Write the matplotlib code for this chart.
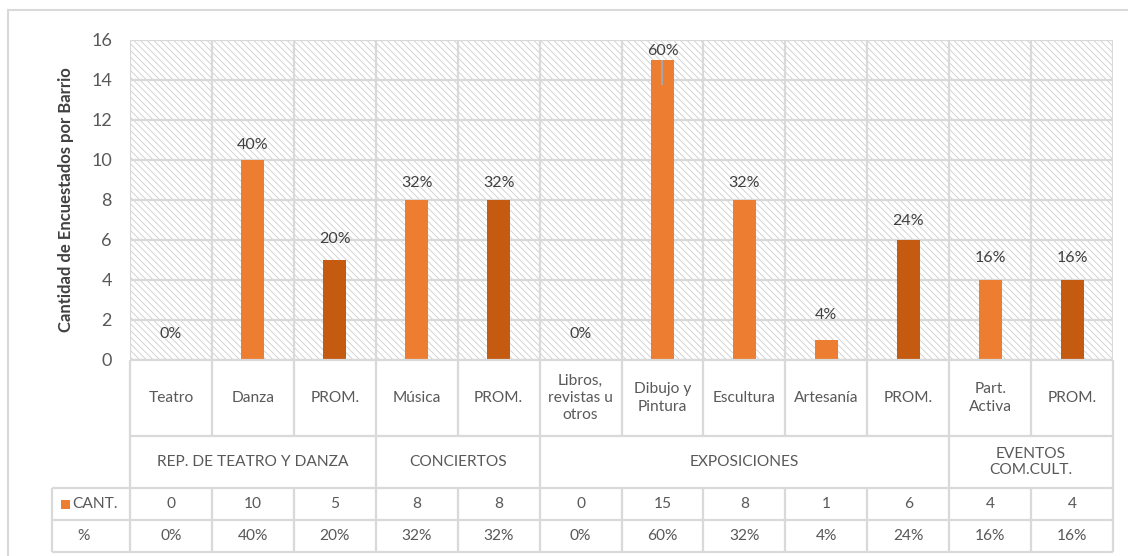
import matplotlib
matplotlib.use("Agg")
import matplotlib.pyplot as plt
from matplotlib.patches import Rectangle
from matplotlib.lines import Line2D

# ---------------- data ----------------
categories = ["Teatro", "Danza", "PROM.", "Música", "PROM.",
              "Libros,\nrevistas u\notros", "Dibujo y\nPintura", "Escultura",
              "Artesanía", "PROM.", "Part.\nActiva", "PROM."]
groups = ["REP. DE TEATRO Y DANZA", "CONCIERTOS", "EXPOSICIONES", "EVENTOS\nCOM.CULT."]
group_sizes = [3, 2, 5, 2]
cant = [0, 10, 5, 8, 8, 0, 15, 8, 1, 6, 4, 4]
pct = [0.00, 0.40, 0.20, 0.32, 0.32, 0.00, 0.60, 0.32, 0.04, 0.24, 0.16, 0.16]
is_prom = [False, False, True, False, True, False, False, False, False, True, False, True]
err_lower = [0, 0, 0, 0, 0, 0, 1.25, 0, 0, 0, 0, 0]
yticks = [0, 2, 4, 6, 8, 10, 12, 14, 16]
ylabel = "Cantidad de Encuestados por Barrio"
series_name = "CANT."
pct_name = "%"

# ---------------- style ----------------
W, H = 1128, 556
LIGHT = "#ED7D31"
DARK = "#C55A11"
GRID = "#D9D9D9"
TXT = "#595959"
LBL = "#404040"
FONT = ["Lato", "DejaVu Sans"]
plt.rcParams["font.family"] = FONT
plt.rcParams["hatch.linewidth"] = 0.6

fig = plt.figure(figsize=(W / 100, H / 100), dpi=100)

def px_axes(x0, y0, x1, y1):
    return fig.add_axes([x0 / W, (H - y1) / H, (x1 - x0) / W, (y1 - y0) / H])

# outer chart border (top & left visible)
fig.add_artist(Line2D([8 / W, 8 / W], [0, (H - 10) / H], color=GRID, lw=1.5))
fig.add_artist(Line2D([8 / W, 1.0], [(H - 10) / H, (H - 10) / H], color=GRID, lw=1.5))

# ---------------- main plot ----------------
PL, PR, PT, PB = 130, 1113, 40, 360
ax = px_axes(PL, PT, PR, PB)
n = len(categories)
x = list(range(n))
ax.set_xlim(-0.5, n - 0.5)
ax.set_ylim(0, 16)

ax.add_patch(Rectangle((0, 0), 1, 1, transform=ax.transAxes, facecolor="white",
                       edgecolor="#CDCDCD", hatch="\\\\\\\\\\", lw=0, zorder=0))
for yt in yticks:
    ax.axhline(yt, color=GRID, lw=1.6, zorder=1)
for i in range(n + 1):
    ax.axvline(i - 0.5, color=GRID, lw=1.6, zorder=1)

colors = [DARK if p else LIGHT for p in is_prom]
ax.bar(x, cant, width=0.28, color=colors, zorder=3)

for i in x:
    if err_lower[i]:
        ax.errorbar(i, cant[i], yerr=[[err_lower[i]], [0]], fmt="none",
                    ecolor="#A6A6A6", elinewidth=1.5, capsize=0, zorder=4)

ax.set_yticks(yticks)
ax.tick_params(axis="y", length=0, labelsize=13, labelcolor=TXT, pad=13)
ax.tick_params(axis="x", length=0, labelbottom=False)
for s in ax.spines.values():
    s.set_visible(False)
ax.set_ylabel(ylabel, fontsize=12, fontweight="bold", color=LBL, labelpad=12)

# invisible percentage series on a secondary scale, carrying the labels
ax2 = ax.twinx()
ax2.set_ylim(0, 0.68)
ax2.set_axis_off()
for i in x:
    ax2.annotate(f"{pct[i]:.0%}", (i, pct[i]), xytext=(0, 19), textcoords="offset points",
                 ha="center", va="center", fontsize=11.5, color=LBL)

# ---------------- data table ----------------
TL, TT, TB = 52, 360, 552
unit = (PR - PL) / n
x_left = -0.5 - (PL - TL) / unit
tax = px_axes(TL, TT, PR, TB)
tax.set_xlim(x_left, n - 0.5)
tax.set_ylim(TB - TT, 0)
tax.set_axis_off()
rows = [0, 76, 128, 160, 192]
lk = dict(color=GRID, lw=1.6, solid_capstyle="butt", clip_on=False)

# horizontal lines
tax.plot([-0.5, n - 0.5], [rows[0], rows[0]], **lk)
tax.plot([-0.5, n - 0.5], [rows[1], rows[1]], **lk)
for r in rows[2:]:
    tax.plot([x_left, n - 0.5], [r, r], **lk)
# vertical lines: category row
for i in range(n + 1):
    tax.plot([i - 0.5, i - 0.5], [rows[0], rows[1]], **lk)
# group row
b = -0.5
tax.plot([b, b], [rows[1], rows[2]], **lk)
for g in group_sizes:
    b += g
    tax.plot([b, b], [rows[1], rows[2]], **lk)
# data rows
for i in range(n + 1):
    tax.plot([i - 0.5, i - 0.5], [rows[2], rows[4]], **lk)
tax.plot([x_left, x_left], [rows[2], rows[4]], **lk)

fs = 11.2
for i, c in enumerate(categories):
    tax.text(i, (rows[0] + rows[1]) / 2, c, ha="center", va="center", fontsize=fs,
             color=TXT, linespacing=1.3)
start = -0.5
for g, sz in zip(groups, group_sizes):
    tax.text(start + sz / 2, (rows[1] + rows[2]) / 2, g, ha="center", va="center",
             fontsize=fs, color=TXT, linespacing=1.25)
    start += sz
for i in x:
    tax.text(i, (rows[2] + rows[3]) / 2, f"{cant[i]}", ha="center", va="center",
             fontsize=fs, color=TXT)
    tax.text(i, (rows[3] + rows[4]) / 2, f"{pct[i]:.0%}", ha="center", va="center",
             fontsize=fs, color=TXT)

# header column
kx = x_left + 9 / unit
tax.add_patch(Rectangle((kx, (rows[2] + rows[3]) / 2 - 4.5), 9 / unit, 9,
                        facecolor=LIGHT, edgecolor="none", clip_on=False))
tax.text(kx + 11 / unit, (rows[2] + rows[3]) / 2, series_name, ha="left", va="center",
         fontsize=fs, color=TXT)
tax.text(x_left + 32 / unit, (rows[3] + rows[4]) / 2, pct_name, ha="center", va="center",
         fontsize=fs, color=TXT)

fig.savefig("out.png", dpi=100)
